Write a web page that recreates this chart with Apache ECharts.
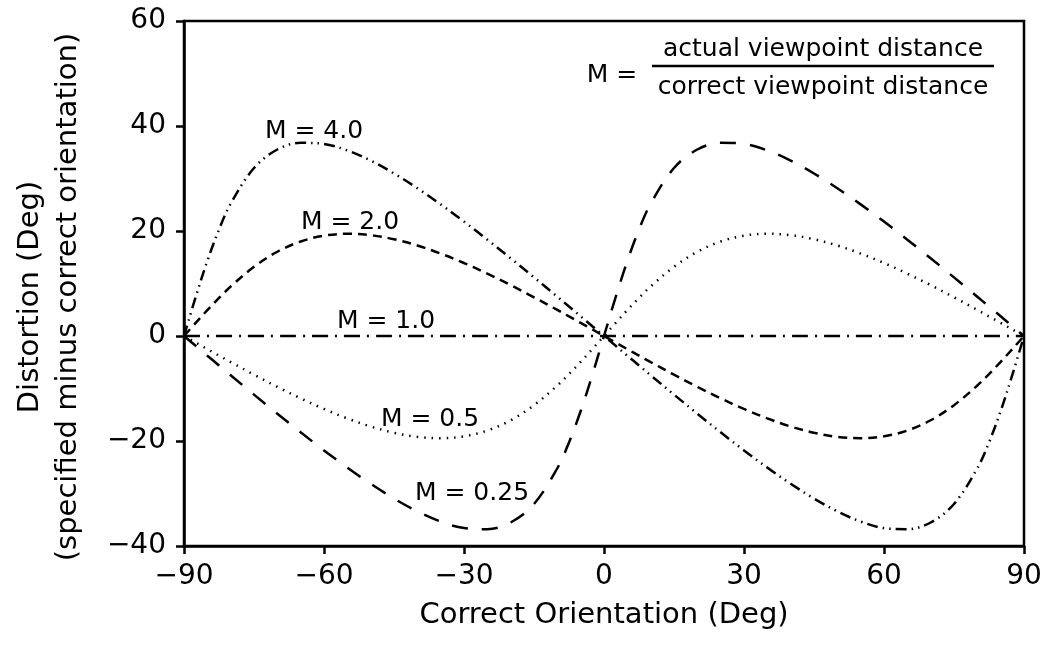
<!DOCTYPE html>
<html>
<head>
<meta charset="utf-8">
<script src="https://cdn.jsdelivr.net/npm/echarts@6/dist/echarts.min.js"></script>
<style>
html,body{margin:0;padding:0;background:#fff;}
#chart{width:1053px;height:645px;}
</style>
</head>
<body>
<div id="chart"></div>
<script>
// Correct orientation (deg)
const theta = [-90,-87.5,-85,-82.5,-80,-75,-70,-65,-60,-55,-50,-45,-40,-35,-30,-25,-20,-15,-10,-7.5,-5,-2.5,0,2.5,5,7.5,10,15,20,25,30,35,40,45,50,55,60,65,70,75,80,82.5,85,87.5,90];
// Distortion (deg)
const m4   = [0,7.41,14.29,20.27,25.19,31.99,35.52,36.80,36.59,35.35,33.41,30.96,28.15,25.07,21.79,18.35,14.80,11.17,7.48,5.61,3.75,1.87,0,-1.87,-3.75,-5.61,-7.48,-11.17,-14.80,-18.35,-21.79,-25.07,-28.15,-30.96,-33.41,-35.35,-36.59,-36.80,-35.52,-31.99,-25.19,-20.27,-14.29,-7.41,0];
const m2   = [0,2.49,4.93,7.25,9.43,13.18,16.05,18.00,19.11,19.47,19.21,18.43,17.24,15.70,13.90,11.88,9.69,7.37,4.96,3.73,2.50,1.25,0,-1.25,-2.50,-3.73,-4.96,-7.37,-9.69,-11.88,-13.90,-15.70,-17.24,-18.43,-19.21,-19.47,-19.11,-18.00,-16.05,-13.18,-9.43,-7.25,-4.93,-2.49,0];
const m1   = [0,0,0,0,0,0,0,0,0,0,0,0,0,0,0,0,0,0,0,0,0,0,0,0,0,0,0,0,0,0,0,0,0,0,0,0,0,0,0,0,0,0,0,0,0];
const m05  = [0,-1.25,-2.50,-3.73,-4.96,-7.37,-9.69,-11.88,-13.90,-15.70,-17.24,-18.43,-19.21,-19.47,-19.11,-18.00,-16.05,-13.18,-9.43,-7.25,-4.93,-2.49,0,2.49,4.93,7.25,9.43,13.18,16.05,18.00,19.11,19.47,19.21,18.43,17.24,15.70,13.90,11.88,9.69,7.37,4.96,3.73,2.50,1.25,0];
const m025 = [0,-1.87,-3.75,-5.61,-7.48,-11.17,-14.80,-18.35,-21.79,-25.07,-28.15,-30.96,-33.41,-35.35,-36.59,-36.80,-35.52,-31.99,-25.19,-20.27,-14.29,-7.41,0,7.41,14.29,20.27,25.19,31.99,35.52,36.80,36.59,35.35,33.41,30.96,28.15,25.07,21.79,18.35,14.80,11.17,7.48,5.61,3.75,1.87,0];
const seriesNames = ['M = 4.0','M = 2.0','M = 1.0','M = 0.5','M = 0.25'];
const xTicks = ['\u221290','\u221260','\u221230','0','30','60','90'];
const yTicks = ['\u221240','\u221220','0','20','40','60'];

const FONT = 'DejaVu Sans';
function pairs(ys){ return theta.map((t,i)=>[t, ys[i]]); }
function line(name, ys, dash){
  return {
    name, type:'line', data:pairs(ys), symbol:'none', smooth:0.35,
    lineStyle:{color:'#000', width:2.5, type:dash, cap:'butt'},
    z:3
  };
}
const chart = echarts.init(document.getElementById('chart'), null, {renderer:'canvas'});
chart.setOption({
  animation:false,
  backgroundColor:'#fff',
  grid:{left:184, right:29, top:21, bottom:99, show:true, borderColor:'#000', borderWidth:2.5, backgroundColor:'transparent'},
  xAxis:{
    type:'value', min:-90, max:90, interval:30,
    name:'Correct Orientation (Deg)', nameLocation:'middle', nameGap:55,
    nameTextStyle:{fontFamily:FONT, fontSize:29, color:'#000'},
    axisLine:{show:true, onZero:false, lineStyle:{color:'#000', width:2.5}},
    axisTick:{show:true, length:8, lineStyle:{color:'#000', width:2.5}},
    axisLabel:{margin:17, fontFamily:FONT, fontSize:28, color:'#000',
      formatter:(v)=>xTicks[Math.round((v+90)/30)]},
    splitLine:{show:false}
  },
  yAxis:{
    type:'value', min:-40, max:60, interval:20,
    axisLine:{show:true, onZero:false, lineStyle:{color:'#000', width:2.5}},
    axisTick:{show:true, length:8, lineStyle:{color:'#000', width:2.5}},
    axisLabel:{margin:18, fontFamily:FONT, fontSize:28, color:'#000',
      formatter:(v)=>yTicks[Math.round((v+40)/20)]},
    splitLine:{show:false}
  },
  series:[
    line(seriesNames[0], m4,   [11,5,1.5,5,1.5,5]),
    line(seriesNames[1], m2,   [9,6]),
    line(seriesNames[2], m1,   [16,7,2,7]),
    line(seriesNames[3], m05,  [1.5,6]),
    line(seriesNames[4], m025, [16,14])
  ],
  graphic:[
    {type:'text', x:30, y:297, rotation:Math.PI/2, style:{text:'Distortion (Deg)', font:'29px "DejaVu Sans"', fill:'#000', align:'center', verticalAlign:'middle'}},
    {type:'text', x:68, y:297, rotation:Math.PI/2, style:{text:'(specified minus correct orientation)', font:'29px "DejaVu Sans"', fill:'#000', align:'center', verticalAlign:'middle'}},
    {type:'text', x:314, y:131, style:{text:seriesNames[0], font:'25px "DejaVu Sans"', fill:'#000', align:'center', verticalAlign:'middle'}},
    {type:'text', x:350, y:222, style:{text:seriesNames[1], font:'25px "DejaVu Sans"', fill:'#000', align:'center', verticalAlign:'middle'}},
    {type:'text', x:386, y:321, style:{text:seriesNames[2], font:'25px "DejaVu Sans"', fill:'#000', align:'center', verticalAlign:'middle'}},
    {type:'text', x:430, y:419, style:{text:seriesNames[3], font:'25px "DejaVu Sans"', fill:'#000', align:'center', verticalAlign:'middle'}},
    {type:'text', x:472, y:493, style:{text:seriesNames[4], font:'25px "DejaVu Sans"', fill:'#000', align:'center', verticalAlign:'middle'}},
    {type:'text', x:612, y:75, style:{text:'M =', font:'25px "DejaVu Sans"', fill:'#000', align:'center', verticalAlign:'middle'}},
    {type:'text', x:823, y:49, style:{text:'actual viewpoint distance', font:'25px "DejaVu Sans"', fill:'#000', align:'center', verticalAlign:'middle'}},
    {type:'line', shape:{x1:652, y1:66, x2:994, y2:66}, style:{stroke:'#000', lineWidth:2.5}},
    {type:'text', x:823, y:87, style:{text:'correct viewpoint distance', font:'25px "DejaVu Sans"', fill:'#000', align:'center', verticalAlign:'middle'}}
  ]
});
</script>
</body>
</html>
